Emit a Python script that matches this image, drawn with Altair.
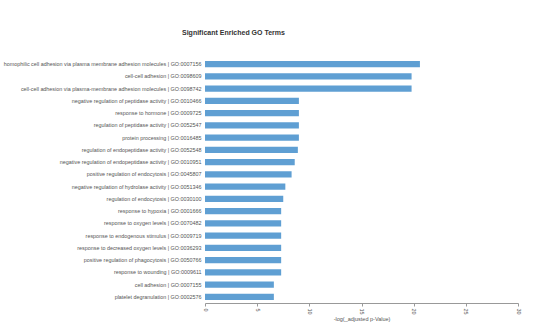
import altair as alt
import pandas as pd

terms = [
    "homophilic cell adhesion via plasma membrane adhesion molecules | GO:0007156",
    "cell-cell adhesion | GO:0098609",
    "cell-cell adhesion via plasma-membrane adhesion molecules | GO:0098742",
    "negative regulation of peptidase activity | GO:0010466",
    "response to hormone | GO:0009725",
    "regulation of peptidase activity | GO:0052547",
    "protein processing | GO:0016485",
    "regulation of endopeptidase activity | GO:0052548",
    "negative regulation of endopeptidase activity | GO:0010951",
    "positive regulation of endocytosis | GO:0045807",
    "negative regulation of hydrolase activity | GO:0051346",
    "regulation of endocytosis | GO:0030100",
    "response to hypoxia | GO:0001666",
    "response to oxygen levels | GO:0070482",
    "response to endogenous stimulus | GO:0009719",
    "response to decreased oxygen levels | GO:0036293",
    "positive regulation of phagocytosis | GO:0050766",
    "response to wounding | GO:0009611",
    "cell adhesion | GO:0007155",
    "platelet degranulation | GO:0002576",
]
values = [20.6, 19.8, 19.8, 9.0, 9.0, 9.0, 9.0, 8.9, 8.6, 8.3, 7.7, 7.5,
          7.3, 7.3, 7.3, 7.3, 7.3, 7.3, 6.6, 6.6]
x_ticks = [0, 5, 10, 15, 20, 25, 30]

df = pd.DataFrame({"term": terms, "value": values})

chart = alt.Chart(df).mark_bar(color="#5f9fd3").encode(
    x=alt.X("value:Q", scale=alt.Scale(domain=[0, 30], nice=False),
            axis=alt.Axis(title="-log(_adjusted p-Value)", values=x_ticks,
                          labelAngle=90, grid=False, labelFontSize=5.5,
                          titleFontSize=5.5, titleFontWeight="normal",
                          labelColor="#555", titleColor="#555",
                          domainColor="#999", tickColor="#999", tickSize=3,
                          titlePadding=2)),
    y=alt.Y("term:N", sort=terms,
            scale=alt.Scale(paddingInner=0.5, paddingOuter=0.25),
            axis=alt.Axis(title=None, labelFontSize=5.4, labelColor="#555",
                          domain=False, ticks=False, labelPadding=4,
                          labelLimit=0)),
).properties(
    width=313, height=245,
    title=alt.TitleParams("Significant Enriched GO Terms", fontSize=7,
                          fontWeight="bold", color="#333", anchor="start",
                          frame="group", dx=-23, offset=22),
    autosize=alt.AutoSizeParams(type="none"),
    padding={"left": 205, "top": 58, "right": 19, "bottom": 23},
).configure(font="Liberation Sans", view=alt.ViewConfig(stroke=None))

chart.save("out.html", embed_options={"renderer": "svg", "actions": False})
